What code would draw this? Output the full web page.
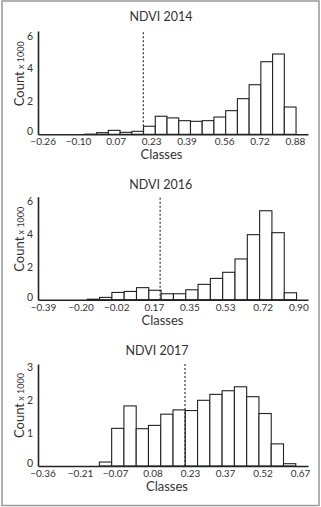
<!DOCTYPE html>
<html lang="en">

<head>
  <meta charset="UTF-8" />
  <title>NDVI histograms</title>
  <script src="https://d3js.org/d3.v7.min.js"></script>
  <style>
    body {
      margin: 0;
      background: #fff;
    }

    svg text {
      font-family: Lato, "Open Sans", sans-serif;
      fill: #333;
    }

    .domain {
      stroke: #222;
      stroke-width: 1.6px;
    }

    .bar {
      fill: #fff;
      stroke: #222;
      stroke-width: 1.1px;
    }
  </style>
</head>

<body>
  <script>
    // counts are in thousands (Count x 1000)
    var titles = ["NDVI 2014", "NDVI 2016", "NDVI 2017"];

    var counts2014 = [0, 0, 0, 0, 0.01, 0.1, 0.24, 0.12, 0.18, 0.49, 1.1, 1.0,
      0.83, 0.79, 0.83, 1.05, 1.44, 2.17, 3.02, 4.42, 4.89, 1.66];
    var counts2016 = [0, 0, 0, 0, 0.03, 0.14, 0.44, 0.5, 0.73, 0.57, 0.36,
      0.36, 0.6, 0.93, 1.29, 1.66, 2.47, 3.94, 5.39, 4.06, 0.42];
    var counts2017 = [0, 0, 0, 0, 0, 0.12, 1.14, 1.82, 1.13, 1.23, 1.57,
      1.7, 1.68, 1.99, 2.17, 2.28, 2.4, 2.1, 1.59, 0.67, 0.07];

    // first bin edge and bin width (NDVI units)
    var binStart = [-0.281, -0.415, -0.378];
    var binWidth = [0.053, 0.0622, 0.0491];
    var axisEnd = [0.939, 0.949, 0.702];

    var xTicks2014 = [-0.26, -0.10, 0.07, 0.23, 0.39, 0.56, 0.72, 0.88];
    var xTicks2016 = [-0.39, -0.20, -0.02, 0.17, 0.35, 0.53, 0.72, 0.90];
    var xTicks2017 = [-0.36, -0.21, -0.07, 0.08, 0.23, 0.37, 0.52, 0.67];

    var yTicks = [[0, 2, 4, 6], [0, 2, 4, 6], [0, 1, 2, 3]];
    var yMax = [6.29, 6.24, 3.09];

    // dashed threshold line
    var thresholds = [0.195, 0.202, 0.21];

    var allCounts = [counts2014, counts2016, counts2017];
    var allXTicks = [xTicks2014, xTicks2016, xTicks2017];

    var width = 321,
      height = 507;

    // layout of each panel (pixels)
    var layout = [
      { top: 31, base: 134.3, titleX: 161, titleY: 20.5, labelX: 161.5 },
      { top: 196.7, base: 299.7, titleX: 160.7, titleY: 189, labelX: 162.5 },
      { top: 364, base: 466, titleX: 157, titleY: 355, labelX: 167 }
    ];
    var left = 38,
      right = 308;

    var svg = d3
      .select("body")
      .append("svg")
      .attr("width", width)
      .attr("height", height);

    // grey frame round the whole figure
    svg
      .append("rect")
      .attr("x", 2)
      .attr("y", 1)
      .attr("width", 317)
      .attr("height", 504.5)
      .style("fill", "none")
      .style("stroke", "#999")
      .style("stroke-width", 1.5);

    titles.forEach(function (title, p) {
      var L = layout[p];
      var counts = allCounts[p];

      var xScale = d3
        .scaleLinear()
        .domain([binStart[p], axisEnd[p]])
        .range([left, right]);

      var yScale = d3
        .scaleLinear()
        .domain([0, yMax[p]])
        .range([L.base, L.top]);

      var g = svg.append("g").attr("class", "panel");

      var bins = counts.map(function (c, i) {
        return { x0: binStart[p] + i * binWidth[p], x1: binStart[p] + (i + 1) * binWidth[p], n: c };
      });

      g.selectAll(".bar")
        .data(bins.filter(function (d) { return d.n > 0; }))
        .enter()
        .append("rect")
        .attr("class", "bar")
        .attr("x", function (d) { return xScale(d.x0); })
        .attr("width", function (d) { return xScale(d.x1) - xScale(d.x0); })
        .attr("y", function (d) { return yScale(d.n); })
        .attr("height", function (d) { return yScale(0) - yScale(d.n); });

      g.append("line")
        .attr("x1", xScale(thresholds[p]))
        .attr("x2", xScale(thresholds[p]))
        .attr("y1", yScale(0))
        .attr("y2", yScale(yMax[p]))
        .style("stroke", "#333")
        .style("stroke-width", 1.2)
        .style("stroke-dasharray", "2,2");

      var xAxis = d3
        .axisBottom(xScale)
        .tickValues(allXTicks[p])
        .tickFormat(d3.format(".2f"))
        .tickSize(0)
        .tickPadding(4)
        .tickSizeOuter(0);

      var yAxis = d3
        .axisLeft(yScale)
        .tickValues(yTicks[p])
        .tickFormat(d3.format("d"))
        .tickSize(0)
        .tickPadding(5)
        .tickSizeOuter(0);

      g.append("g")
        .attr("transform", "translate(0," + L.base + ")")
        .call(xAxis)
        .call(function (a) {
          a.selectAll("text").style("font-size", "10px").style("fill", "#333");
        });

      g.append("g")
        .attr("transform", "translate(" + left + ",0)")
        .call(yAxis)
        .call(function (a) {
          a.selectAll("text").style("font-size", "10.5px").style("fill", "#333")
            .attr("dy", function (d) { return d === 0 ? "0.05em" : "0.32em"; });
        });

      g.append("text")
        .attr("x", L.titleX)
        .attr("y", L.titleY)
        .attr("text-anchor", "middle")
        .style("font-size", "12.5px")
        .text(title);

      g.append("text")
        .attr("x", L.labelX)
        .attr("y", L.base + 25)
        .attr("text-anchor", "middle")
        .style("font-size", "13px")
        .text("Classes");

      var yl = g.append("text")
        .attr("transform", "translate(23.5," + (L.base - 60.5) + ") rotate(-90)")
        .attr("text-anchor", "middle");
      yl.append("tspan").style("font-size", "13px").text("Count");
      yl.append("tspan").style("font-size", "9px").text(" x 1000");
    });
  </script>
</body>

</html>
